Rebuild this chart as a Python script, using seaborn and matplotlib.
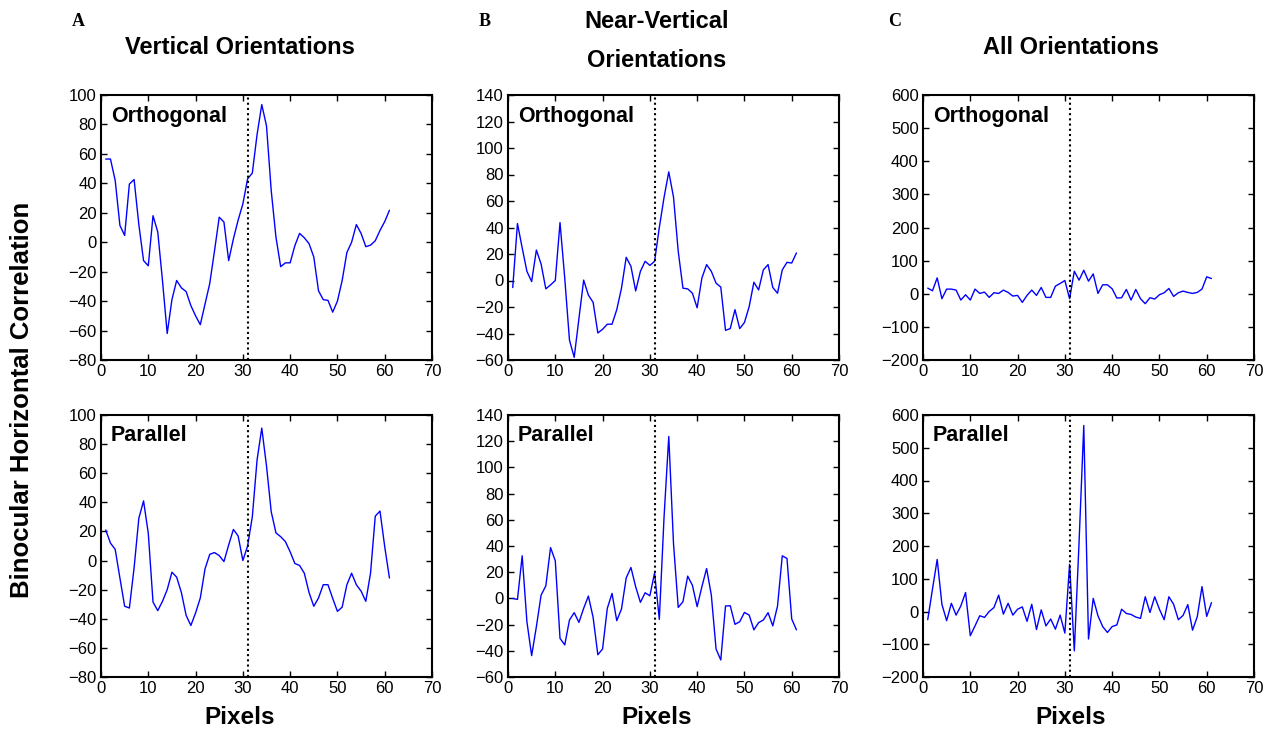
"""Binocular horizontal correlation profiles: 3 orientation groups x 2 conditions."""

import matplotlib

matplotlib.use("Agg")
import matplotlib.pyplot as plt  # noqa: E402
import numpy as np  # noqa: E402
import pandas as pd  # noqa: E402
import seaborn as sns  # noqa: E402

pixels = np.arange(1, 62)
center_pixel = 31

vert_orth = [56.5, 56.5, 42, 11.4, 4.6, 39.5, 42.6, 12, -12.5, -16,
             18, 7, -26, -62, -39, -26, -31, -33.5, -43, -50,
             -56, -42, -28, -6, 17, 13.7, -12.5, 2.3, 15, 26,
             43, 47, 73, 93.5, 79, 35, 3.4, -16.6, -14, -14,
             -2.3, 6, 3, -1, -10, -33, -39, -39.5, -47.5, -40,
             -26, -7, 0, 12, 6, -3, -2, 1, 8, 14, 21.7]
vert_par = [21, 12, 7.7, -12, -31.4, -32.6, -5, 29, 41, 18.7,
            -28.5, -34.4, -28, -20, -8, -11.4, -22, -37.6, -44.6, -36,
            -25.7, -5.7, 4.3, 5.5, 3.4, -0.7, 10.7, 21.4, 16.9, 0,
            10, 30, 69, 91, 65, 33.5, 19, 16.4, 13, 6,
            -2, -3.4, -8.7, -22, -31.4, -25.7, -16.6, -16.6, -26, -34.9,
            -32, -16.6, -8.7, -16.6, -21, -28, -8.7, 30.5, 34, 9.6, -12]
near_orth = [-5.3, 43, 24.6, 6.9, -0.8, 23, 12.4, -6.3, -3.3, 0,
             43.7, 1.8, -45, -58, -28.7, 0.3, -11, -16.5, -39.6, -36.8,
             -33, -33, -22, -5.8, 17.5, 10.7, -7.9, 6.9, 14.5, 11.4,
             14.5, 40, 62.7, 82, 63, 22, -5.8, -6.3, -9.6, -20.6,
             1.8, 12, 6.9, -2, -5, -37.6, -36.3, -22, -36.3, -31.7,
             -19.8, -1.3, -7.1, 8, 12, -5.3, -9.6, 8, 13.7, 13.2, 20.8]
near_par = [0, -0.8, 32.5, -17.8, -43.7, -21.6, 2.5, 9.6, 38.8, 28.7,
            -30.5, -35.5, -16.5, -10.9, -18.3, -7.6, 1.8, -14.5, -43, -38.6,
            -7.6, 3.8, -17, -8.1, 15.7, 23.6, 8.9, -3, 4.3, 2,
            19.5, -16, 62, 123.6, 41.9, -6.9, -2.5, 17, 10, -6.3,
            8.9, 22.8, 2.5, -38.6, -47, -5.8, -5.6, -19.8, -17.8, -10.7,
            -12.7, -24, -18.5, -16.5, -10.9, -21, -5.8, 32.5, 30.5, -15.7, -24]
all_orth = [17, 9, 48, -15, 14, 14, 11, -19, -3, -19,
            14, 1, 5, -11, 3, 1, 11, 4, -7, -5,
            -26, -5, 11, -5, 19, -11, -11, 23, 31, 40,
            -15, 68, 41, 71, 38, 60, 1, 27, 27, 15,
            -13, -12, 13, -19, 13, -15, -30, -12, -16, -3,
            3, 16, -8, 3, 8, 4, 1, 4, 14, 51, 46]
all_par = [-25, 68, 159, 22, -28, 25, -11, 17, 58, -74,
           -44, -13, -18, 0, 12, 50, -8, 25, -11, 7,
           14, -30, 22, -55, 5, -44, -23, -54, -11, -66,
           144, -120, 210, 568, -84, 40, -13, -46, -64, -46,
           -41, 7, -6, -9, -17, -21, 45, -3, 45, 7,
           -25, 45, 22, -25, -12, 21, -57, -16, 76, -15, 27]

panel_letters = ["A", "B", "C"]
panel_titles = ["Vertical Orientations", "Near-Vertical\nOrientations", "All Orientations"]
row_labels = ["Orthogonal", "Parallel"]
y_ticks = [np.arange(-80, 101, 20), np.arange(-60, 141, 20), np.arange(-200, 601, 100)]
x_ticks = np.arange(0, 71, 10)

series = [[vert_orth, vert_par], [near_orth, near_par], [all_orth, all_par]]

sns.set_style("ticks")
plt.rcParams["font.family"] = ["Liberation Sans", "DejaVu Sans"]
plt.rcParams["text.color"] = "black"
plt.rcParams["axes.labelcolor"] = "black"
plt.rcParams["xtick.color"] = "black"
plt.rcParams["ytick.color"] = "black"

W, H = 1275, 731
fig = plt.figure(figsize=(W / 100, H / 100), dpi=100)

lefts = [101, 508, 923]
tops = [95, 415]
bottoms = [360, 677]
ax_w = 331

title_x = [240, 657, 1071]
title_y = [47, 41, 47]
letter_x = [78, 485, 895]

for col in range(3):
    for row in range(2):
        rect = [lefts[col] / W, 1 - bottoms[row] / H, ax_w / W,
                (bottoms[row] - tops[row]) / H]
        ax = fig.add_axes(rect)
        df = pd.DataFrame({"pixel": pixels, "corr": series[col][row]})
        sns.lineplot(data=df, x="pixel", y="corr", ax=ax, color="#0000ff",
                     linewidth=1.0, estimator=None)
        ax.axvline(center_pixel, color="black", linestyle=(0, (1, 1.5)), linewidth=1.5)
        ax.set_xlim(0, 70)
        yt = y_ticks[col]
        ax.set_ylim(yt[0], yt[-1])
        ax.set_xticks(x_ticks)
        ax.set_yticks(yt)
        ax.set_xlabel("")
        ax.set_ylabel("")
        ax.tick_params(direction="in", top=True, right=True, length=4, width=1,
                       labelsize=12, pad=3, colors="black")
        for s in ax.spines.values():
            s.set_linewidth(1.5)
            s.set_color("black")
        ax.text(0.03, 0.92, row_labels[row], transform=ax.transAxes,
                fontsize=15.5, fontweight="bold", va="center", ha="left")

    fig.text(title_x[col] / W, 1 - title_y[col] / H, panel_titles[col], ha="center",
             va="center", fontsize=17, fontweight="bold", linespacing=1.85)
    fig.text(letter_x[col] / W, 1 - 22 / H, panel_letters[col], ha="center",
             va="center", fontsize=13, fontweight="bold",
             family=["Liberation Serif", "DejaVu Serif"])
    fig.text(title_x[col] / W, 1 - 718 / H, "Pixels", ha="center", va="center",
             fontsize=17.5, fontweight="bold")

fig.text(22 / W, 1 - 400 / H, "Binocular Horizontal Correlation", rotation=90,
         ha="center", va="center", fontsize=18.5, fontweight="bold")

fig.savefig("out.png", dpi=100)
